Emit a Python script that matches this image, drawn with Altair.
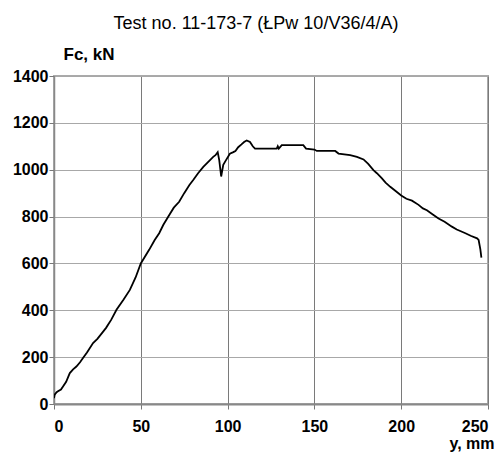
import altair as alt
import pandas as pd

# displacement y (mm) and force Fc (kN)
disp = [0, 0.4, 1.5, 2.3, 4, 5.2, 7, 9.1, 11, 12.9, 15, 16.7, 19, 22.5, 25, 28.3,
        30, 33, 36, 40, 43.7, 47, 50, 54.8, 58, 60.6, 63, 66.4, 69, 72.1, 75, 78,
        80.2, 83, 86, 89, 91.7, 93, 94.3, 95.2, 96.3, 97.5, 99, 101.3, 103.3, 104.5,
        106.1, 108, 109.5, 111, 112.9, 114.5, 115.8, 128.3, 128.9, 129.5, 131.2,
        143.6, 145.2, 150, 151.4, 162, 163.9, 170.6, 174.5, 178.3, 181, 184, 186,
        188.9, 191, 193.7, 196.6, 200, 203, 206.2, 210, 212.5, 214.8, 218, 221.5,
        225, 229.2, 232, 237, 240, 243.7, 244.6, 245.6, 246.2]
force = [25, 40, 50, 54, 62, 75, 95, 132, 148, 160, 178, 196, 220, 260, 278, 309,
         325, 360, 402, 445, 487, 540, 600, 658, 700, 729, 765, 807, 838, 863, 900, 935,
         956, 985, 1012, 1035, 1055, 1062, 1075, 1040, 971, 1021, 1040, 1068, 1075, 1080,
         1096, 1108, 1118, 1125, 1118, 1100, 1090, 1090, 1100, 1090, 1105,
         1105, 1090, 1086, 1080, 1080, 1069, 1062, 1055, 1044, 1025, 998, 985,
         963, 945, 927, 910, 890, 876, 868, 850, 835, 827, 810, 792,
         778, 757, 745, 729, 718, 707, 700, 660, 625]

x_ticks = [0, 50, 100, 150, 200, 250]
y_ticks = [0, 200, 400, 600, 800, 1000, 1200, 1400]

df = pd.DataFrame({"y_mm": disp, "Fc": force, "order": list(range(len(disp)))})

FONT = "Liberation Sans"

chart = alt.Chart(df).mark_line(color="black", strokeWidth=1.8, clip=True).encode(
    x=alt.X("y_mm:Q",
            scale=alt.Scale(domain=[0, 250], nice=False, zero=False),
            axis=alt.Axis(values=x_ticks, format="d", title="y, mm", titleAngle=0,
                          titleX=440, titleY=44, titleAlign="right",
                          titleBaseline="alphabetic", titleFont=FONT, titleFontSize=16,
                          titleFontWeight="bold", labelFont=FONT, labelFontSize=16,
                          labelFontWeight="bold", labelPadding=9, tickSize=5,
                          tickColor="#777777", domainColor="#888888", domainWidth=2,
                          gridColor="#7a7a7a", gridWidth=1, labelColor="black",
                          titleColor="black")),
    y=alt.Y("Fc:Q",
            scale=alt.Scale(domain=[0, 1400], nice=False),
            axis=alt.Axis(values=y_ticks, format="d", title="Fc, kN", titleAngle=0,
                          titleX=9, titleY=-22, titleAlign="left",
                          titleBaseline="middle", titleFont=FONT, titleFontSize=17,
                          titleFontWeight="bold", labelFont=FONT, labelFontSize=16,
                          labelFontWeight="bold", labelPadding=1, tickSize=5,
                          tickColor="#777777", domainColor="#888888", domainWidth=1.5,
                          gridColor="#a8a8a8", gridWidth=1, labelColor="black",
                          titleColor="black")),
    order="order:Q",
).properties(
    width=434,
    height=328,
    title=alt.TitleParams("Test no. 11-173-7 (ŁPw 10/V36/4/A)", font=FONT,
                          fontSize=18, fontWeight="normal", anchor="middle", frame="group",
                          dx=-15, offset=12, color="black"),
    autosize=alt.AutoSizeParams(type="none"),
    padding={"left": 46, "top": 68, "right": 7, "bottom": 50},
).configure_view(stroke="#aaaaaa", strokeWidth=2)

chart.save("out.html", embed_options={"renderer": "svg", "actions": False})
